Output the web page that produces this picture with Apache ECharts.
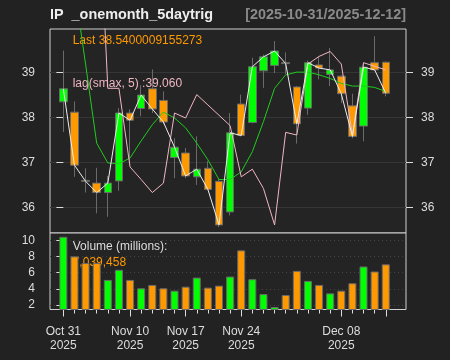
<!DOCTYPE html>
<html><head><meta charset="utf-8">
<script src="https://cdn.jsdelivr.net/npm/echarts@6/dist/echarts.min.js"></script>
<style>html,body{margin:0;padding:0;background:#222222;}#c{width:450px;height:360px;}</style>
</head><body><div id="c"></div>
<script>
const dates = ['2025-10-31','2025-11-03','2025-11-04','2025-11-05','2025-11-06','2025-11-07',
  '2025-11-10','2025-11-11','2025-11-12','2025-11-13','2025-11-14',
  '2025-11-17','2025-11-18','2025-11-19','2025-11-20','2025-11-21',
  '2025-11-24','2025-11-25','2025-11-26','2025-11-28',
  '2025-12-01','2025-12-02','2025-12-03','2025-12-04','2025-12-05',
  '2025-12-08','2025-12-09','2025-12-10','2025-12-11','2025-12-12'];
const open  = [38.35,38.12,36.60,36.54,36.33,36.59,38.10,38.20,38.64,38.38,37.11,37.21,36.68,36.87,36.58,35.90,38.30,37.89,39.04,39.16,39.22,38.68,38.21,39.17,38.96,38.92,38.26,37.81,39.22,39.23];
const close = [38.64,36.94,36.58,36.33,36.54,38.10,37.94,38.50,38.19,37.90,37.34,36.70,36.85,36.40,35.61,37.66,37.60,39.13,39.35,39.48,39.20,37.86,39.22,39.10,39.06,38.53,37.58,39.12,39.06,38.54];
const low   = [37.68,36.68,36.33,35.87,35.79,36.37,36.95,38.03,38.10,37.85,36.65,36.65,36.50,36.38,35.56,35.82,37.58,37.87,38.66,38.99,38.97,37.42,38.06,38.85,38.70,38.32,37.54,37.47,39.04,38.47];
const high  = [39.49,38.36,36.87,36.88,36.70,38.21,38.18,38.72,39.07,38.58,37.54,37.32,37.58,37.03,36.65,38.10,38.51,39.33,39.40,39.70,39.45,38.70,39.27,39.35,39.55,38.94,38.53,39.22,39.81,39.25];
const volume = [10.47,8.03,7.20,7.20,5.10,6.36,5.10,4.06,4.48,4.06,3.76,4.26,5.39,4.14,4.39,5.52,8.78,5.19,3.34,1.73,3.22,6.23,4.98,4.48,3.43,3.76,4.69,6.77,6.15,7.04];
const smaLine = [41.50,40.90,39.19,37.43,36.99,36.97,37.10,37.48,37.84,38.12,37.99,37.77,37.43,37.06,36.62,36.62,36.79,37.24,37.91,38.65,38.95,39.01,39.01,38.95,38.87,38.76,38.70,38.70,38.67,38.58];
const lagSmax = [43.90,43.90,43.90,43.90,38.65,38.65,36.90,36.62,36.33,36.54,38.10,37.99,38.51,38.28,38.05,37.82,36.68,36.85,36.42,35.61,37.67,37.61,39.19,39.36,39.47,39.19,37.61,39.22,39.14,39.06];
const labelDates = ['2025-10-31','2025-11-10','2025-11-17','2025-11-24','2025-12-08'];
const majorTickDates = ['2025-10-31','2025-11-10','2025-11-17','2025-11-24','2025-12-08','2025-12-12'];
const priceTicks = [36,37,38,39];
const volTicks = [2,4,6,8,10];
const titleText = 'IP  _onemonth_5daytrig';
const rangeText = '[2025-10-31/2025-12-12]';
const lastText = 'Last 38.5400009155273';
const lagText = 'lag(smax, 5) :39.060';
const volTitle = 'Volume (millions):';
const volValue = '7,039,458';

const UP = '#00ff00', DN = '#ff9900', FG = '#dddddd';
const XMIN = -1.2, XMAX = 30.82;
const months = ['Jan','Feb','Mar','Apr','May','Jun','Jul','Aug','Sep','Oct','Nov','Dec'];
function fmtDate(i) {
  const d = dates[Math.round(i)]; if (!d) return '';
  const p = d.split('-');
  return months[+p[1]-1] + ' ' + p[2] + '\n' + p[0];
}
const idx = dates.map((d,i)=>i);
const labelIdx = labelDates.map(d => dates.indexOf(d));
const majorIdx = majorTickDates.map(d => dates.indexOf(d));

const chart = echarts.init(document.getElementById('c'), null, {renderer:'canvas'});
const font = 'Liberation Sans, Arial, Helvetica, sans-serif';
chart.setOption({
  backgroundColor: '#222222',
  animation: false,
  textStyle: {fontFamily: font},
  grid: [
    {left:50, right:44, top:29, height:204, show:true, backgroundColor:'#242424', borderColor:'#d0d0d0', borderWidth:1},
    {left:50, right:44, top:233, height:76.5, show:true, backgroundColor:'#242424', borderColor:'#d0d0d0', borderWidth:1}
  ],
  xAxis: [
    {type:'value', gridIndex:0, min:XMIN, max:XMAX, show:false},
    {type:'value', gridIndex:1, min:XMIN, max:XMAX, position:'bottom',
      axisLine:{show:false}, splitLine:{show:false},
      axisTick:{show:true, customValues: idx, length:4, lineStyle:{color:FG}},
      axisLabel:{show:true, customValues: labelIdx, formatter: v => fmtDate(v), color:FG, fontSize:12, lineHeight:14, margin:15, fontFamily:font}},
    {type:'value', gridIndex:1, min:XMIN, max:XMAX, position:'bottom',
      axisLine:{show:false}, splitLine:{show:false},
      axisTick:{show:true, customValues: majorIdx, length:7, lineStyle:{color:FG}},
      axisLabel:{show:false}}
  ],
  yAxis: [
    {type:'value', gridIndex:0, min:35.43, max:39.97, position:'left',
      axisLine:{show:false},
      axisTick:{show:true, customValues: priceTicks, length:7, lineStyle:{color:FG}},
      axisLabel:{customValues: priceTicks, color:FG, fontSize:12, margin:15, fontFamily:font},
      splitLine:{show:true, lineStyle:{color:'#363636', width:1}}},
    {type:'value', gridIndex:0, min:35.43, max:39.97, position:'right',
      axisLine:{show:false},
      axisTick:{show:true, customValues: priceTicks, length:7, lineStyle:{color:FG}},
      axisLabel:{customValues: priceTicks, color:FG, fontSize:12, margin:15, fontFamily:font},
      splitLine:{show:false}},
    {type:'value', gridIndex:1, min:1.42, max:10.94, position:'left',
      axisLine:{show:false},
      axisTick:{show:true, customValues: volTicks, length:7, lineStyle:{color:FG}},
      axisLabel:{customValues: volTicks, color:FG, fontSize:12, margin:15, fontFamily:font},
      splitLine:{show:true, lineStyle:{color:'#444444', type:[1,3], width:1}}}
  ],
  graphic: {elements: [
    {type:'text', x:50, y:15, z:1, style:{text:titleText, fill:'#eeeeee', font:'bold 14.4px '+font, textVerticalAlign:'middle'}},
    {type:'text', x:406, y:15, z:1, style:{text:rangeText, fill:'#8a8a8a', font:'bold 14.4px '+font, textAlign:'right', textVerticalAlign:'middle'}},
    {type:'text', x:72.7, y:41, z:1, style:{text:lastText, fill:DN, font:'12px '+font, textVerticalAlign:'middle'}},
    {type:'text', x:72.7, y:84, z:1, style:{text:lagText, fill:'#f0b6c2', font:'12px '+font, textVerticalAlign:'middle'}},
    {type:'text', x:72.7, y:246.7, z:1, style:{text:volTitle, fill:FG, font:'12px '+font, textVerticalAlign:'middle'}},
    {type:'text', x:72.7, y:262.7, z:1, style:{text:volValue, fill:DN, font:'12px '+font, textVerticalAlign:'middle'}}
  ]},
  series: [
    {type:'candlestick', xAxisIndex:0, yAxisIndex:0, barWidth:8, clip:true,
      encode:{x:0, y:[1,2,3,4]},
      data: idx.map(i => [i, open[i], close[i], low[i], high[i]]),
      itemStyle:{color:UP, color0:DN, borderColor:'#6a6a6a', borderColor0:'#6a6a6a', borderWidth:1}},
    {type:'line', xAxisIndex:0, yAxisIndex:0, showSymbol:false, symbol:'none', clip:true,
      data: idx.map(i => [i, smaLine[i]]), lineStyle:{color:'#1fcc1f', width:1}},
    {type:'line', xAxisIndex:0, yAxisIndex:0, showSymbol:false, symbol:'none', clip:true,
      data: idx.map(i => [i, lagSmax[i]]), lineStyle:{color:'#f0b6c2', width:1}},
    {type:'line', xAxisIndex:0, yAxisIndex:0, showSymbol:false, symbol:'none', clip:true,
      data: idx.map(i => [i, close[i]]), lineStyle:{color:'#eeeeee', width:1}},
    {type:'bar', xAxisIndex:1, yAxisIndex:2, barWidth:8, clip:true,
      data: idx.map(i => ({value:[i, volume[i]], itemStyle:{color: close[i] > open[i] ? UP : DN}})),
      itemStyle:{borderColor:'#6a6a6a', borderWidth:1}}
  ]
});
</script></body></html>
